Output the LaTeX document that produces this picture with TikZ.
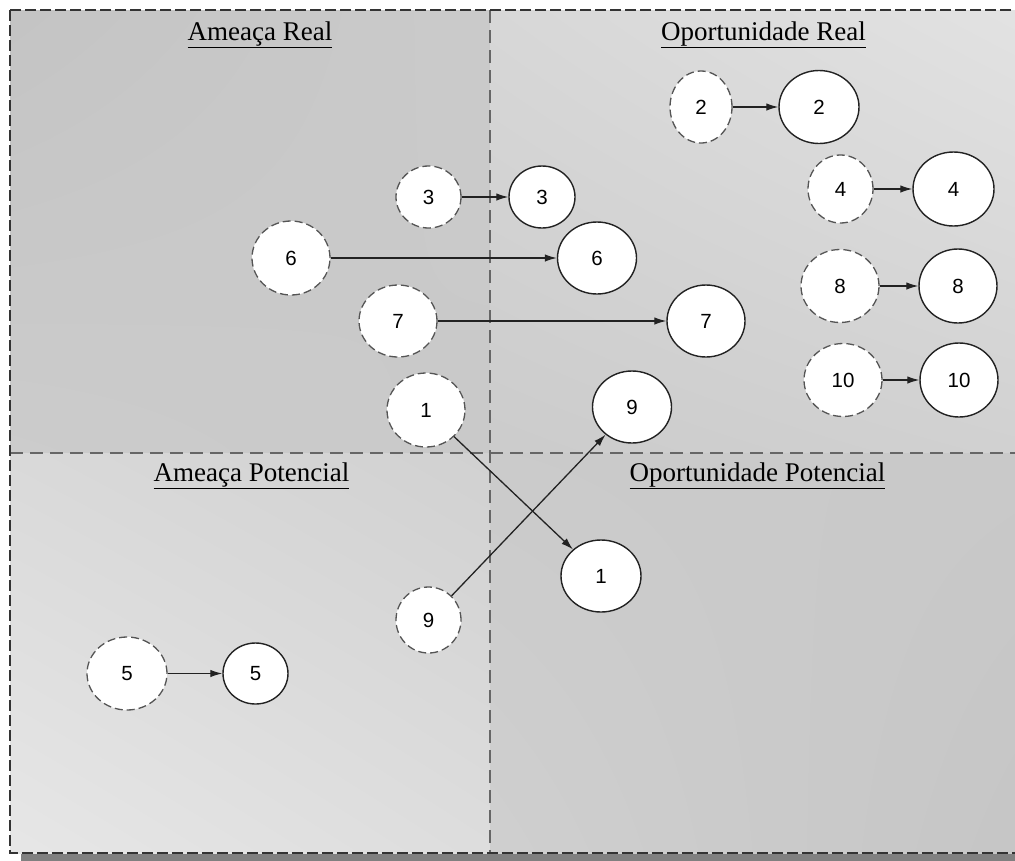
\documentclass[tikz,border=0pt]{standalone}
\usepackage{fontspec}
\setmainfont{Liberation Serif}
\newfontfamily\numfont{Liberation Sans}
\usetikzlibrary{arrows.meta,shapes.geometric}

% bilinear grey fill for each quadrant: g = a + b*u + c*v + d*u*v
\pgfdeclarefunctionalshading{quadTL}{\pgfpointorigin}{\pgfpoint{100bp}{100bp}}{}{
 100 div exch 100 div exch 2 copy mul 0.15 mul 3 1 roll -0.10 mul exch -0.06 mul add add 0.83 add dup dup }
\pgfdeclarefunctionalshading{quadTR}{\pgfpointorigin}{\pgfpoint{100bp}{100bp}}{}{
 100 div exch 100 div exch 2 copy mul 0.09 mul 3 1 roll 0.07 mul exch 0.02 mul add add 0.77 add dup dup }
\pgfdeclarefunctionalshading{quadBL}{\pgfpointorigin}{\pgfpoint{100bp}{100bp}}{}{
 100 div exch 100 div exch 2 copy mul 0.02 mul 3 1 roll -0.11 mul exch -0.08 mul add add 0.95 add dup dup }
\pgfdeclarefunctionalshading{quadBR}{\pgfpointorigin}{\pgfpoint{100bp}{100bp}}{}{
 100 div exch 100 div exch 2 copy mul 0.13 mul 3 1 roll -0.07 mul exch -0.11 mul add add 0.85 add dup dup }

\definecolor{framecol}{HTML}{333333}
\definecolor{divcol}{HTML}{666666}
\definecolor{shadowcol}{HTML}{808080}
\definecolor{ringcol}{HTML}{222222}
\definecolor{dashcol}{HTML}{555555}

\tikzset{
  frameline/.style={draw=framecol, line width=1.8pt, dash pattern=on 11pt off 4pt},
  divider/.style={draw=divcol, line width=2pt, dash pattern=on 13pt off 7pt},
  quadtitle/.style={anchor=base, font=\fontsize{27}{30}\selectfont},
  future/.style={ellipse, draw=dashcol, fill=white, line width=1.3pt,
    dash pattern=on 8pt off 4pt, inner sep=0pt, font=\numfont\fontsize{20.5}{24}\selectfont},
  present/.style={ellipse, draw=ringcol, fill=white, line width=1.4pt,
    inner sep=0pt, font=\numfont\fontsize{20.5}{24}\selectfont},
  move/.style={draw=ringcol, line width=1.3pt, -{Latex[length=12pt,width=7.5pt]}}
}

\begin{document}
\begin{tikzpicture}[x=1pt,y=-1pt]
\useasboundingbox (0,0) rectangle (1015,860);
\clip (0,0) rectangle (1015,860);

% drop shadow and quadrant backgrounds
\fill[shadowcol] (21,18) rectangle (1031,861);
\shade[shading=quadTL] (10,10) rectangle (490,453);
\shade[shading=quadTR] (490,10) rectangle (1025,453);
\shade[shading=quadBL] (10,453) rectangle (490,853);
\shade[shading=quadBR] (490,453) rectangle (1025,853);

% quadrant dividers and outer frame
\draw[divider] (490,10) -- (490,853);
\draw[divider] (10,453) -- (1025,453);
\draw[frameline] (10,10) rectangle (1025,853);

% quadrant titles
\node[quadtitle] (tAR) at (260,40) {\underline{Ameaça Real}};
\node[quadtitle] (tOR) at (763.5,40) {\underline{Oportunidade Real}};
\node[quadtitle] (tAP) at (251.5,481) {\underline{Ameaça Potencial}};
\node[quadtitle] (tOP) at (757.5,481) {\underline{Oportunidade Potencial}};

% future positions (dashed) and present positions (solid)
\node[future, minimum width=62pt, minimum height=72pt] (d2) at (701,107) {2};
\node[present, minimum width=80pt, minimum height=73pt] (s2) at (819,107) {2};
\node[future, minimum width=65pt, minimum height=68pt] (d4) at (840.5,189) {4};
\node[present, minimum width=81pt, minimum height=74pt] (s4) at (953.5,189) {4};
\node[future, minimum width=65pt, minimum height=62pt] (d3) at (428.5,197) {3};
\node[present, minimum width=66pt, minimum height=62pt] (s3) at (542,197) {3};
\node[future, minimum width=78pt, minimum height=74pt] (d6) at (291,258) {6};
\node[present, minimum width=79pt, minimum height=72pt] (s6) at (597,258) {6};
\node[future, minimum width=78pt, minimum height=72pt] (d7) at (398,321) {7};
\node[present, minimum width=78pt, minimum height=72pt] (s7) at (706,321) {7};
\node[future, minimum width=78pt, minimum height=73pt] (d8) at (840,286) {8};
\node[present, minimum width=78pt, minimum height=74pt] (s8) at (958,286) {8};
\node[future, minimum width=78pt, minimum height=73pt] (d10) at (843,380) {10};
\node[present, minimum width=78pt, minimum height=74pt] (s10) at (959,380) {10};
\node[future, minimum width=78pt, minimum height=74pt] (d1) at (426,410) {1};
\node[present, minimum width=80pt, minimum height=72pt] (s1) at (601,576) {1};
\node[future, minimum width=65pt, minimum height=66pt] (d9) at (428.5,620) {9};
\node[present, minimum width=79pt, minimum height=72pt] (s9) at (632,407) {9};
\node[future, minimum width=80pt, minimum height=73pt] (d5) at (127,673.5) {5};
\node[present, minimum width=65pt, minimum height=61pt] (s5) at (255.5,673.5) {5};

% movements
\foreach \k in {1,...,10} {
  \draw[move] (d\k) -- (s\k);
}
\end{tikzpicture}
\end{document}
